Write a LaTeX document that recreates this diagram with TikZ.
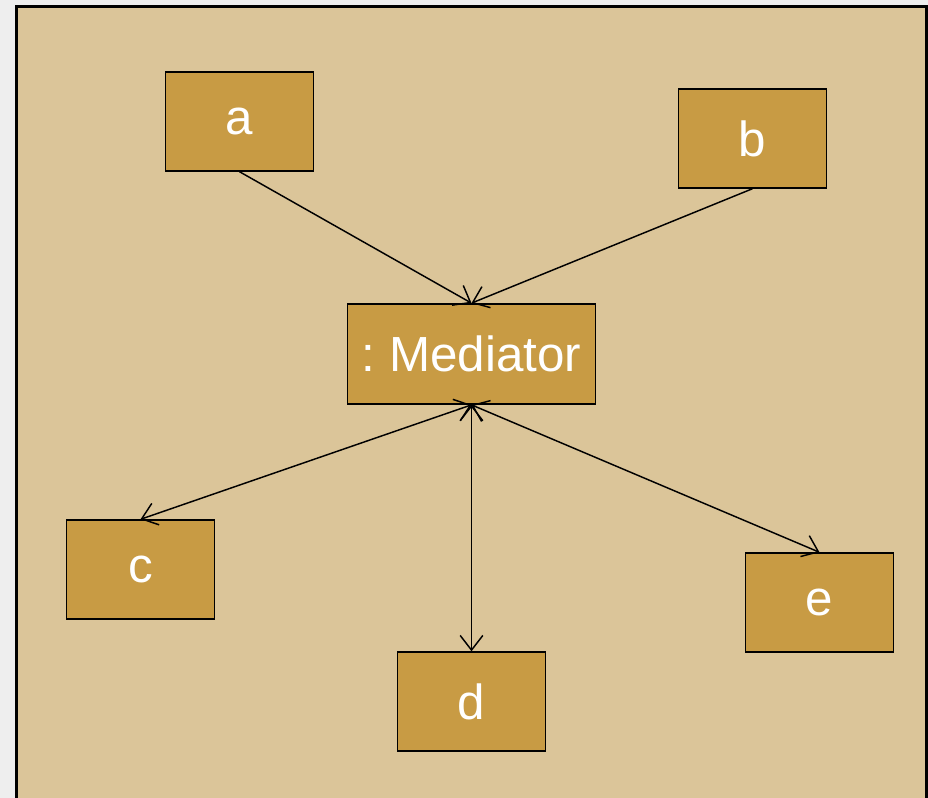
\documentclass[tikz,border=0pt]{standalone}
\usepackage{fontspec}
\setmainfont{Liberation Sans}
\usepackage{tikz}
\usetikzlibrary{arrows.meta}
\usetikzlibrary{backgrounds}
\usepackage{xcolor}
\definecolor{panelbg}{RGB}{219,197,153}
\definecolor{boxfill}{RGB}{200,155,68}
\definecolor{pagebg}{RGB}{238,238,238}
\frenchspacing

\begin{document}
\begin{tikzpicture}[x=0.75pt,y=-0.75pt]
\tikzset{
colleague/.style = {draw,fill=boxfill,line width=1.3pt,minimum width=111pt,minimum height=74pt,inner sep=0pt,text=white,font=\fontsize{37}{41}\selectfont},
mediator/.style = {colleague,minimum width=186pt,minimum height=75pt},
link/.style = {line width=1.1pt,-{Straight Barb[length=11pt,width=17pt,line width=1.1pt]}},
duplex/.style = {link,{Straight Barb[length=11pt,width=17pt,line width=1.1pt]}-{Straight Barb[length=11pt,width=17pt,line width=1.1pt]}},
}
    %
\fill[pagebg] (0,0) rectangle (928,798);
\useasboundingbox (0,0) rectangle (928,798);
\draw[fill=panelbg,line width=1.6pt] (16.5,6.5) rectangle (926.5,830);
    % colleagues
\node[colleague] (a) at (239.5,121.5) {a};
\node[colleague] (b) at (752.5,138.5) {b};
\node[mediator] (med) at (471.5,354) {: Mediator};
\node[colleague] (c) at (140.5,569.5) {c};
\node[colleague] (d) at (471.5,701.5) {d};
\node[colleague] (e) at (819.5,602.5) {e};

% connectors to and from the mediator
\draw[link] (a.south) -- (med.north);
\draw[link] (b.south) -- (med.north);
\draw[duplex] (med.south) -- (c.north);
\draw[duplex] (med.south) -- (d.north);
\draw[duplex] (med.south) -- (e.north);
    %
\end{tikzpicture}
\end{document}
